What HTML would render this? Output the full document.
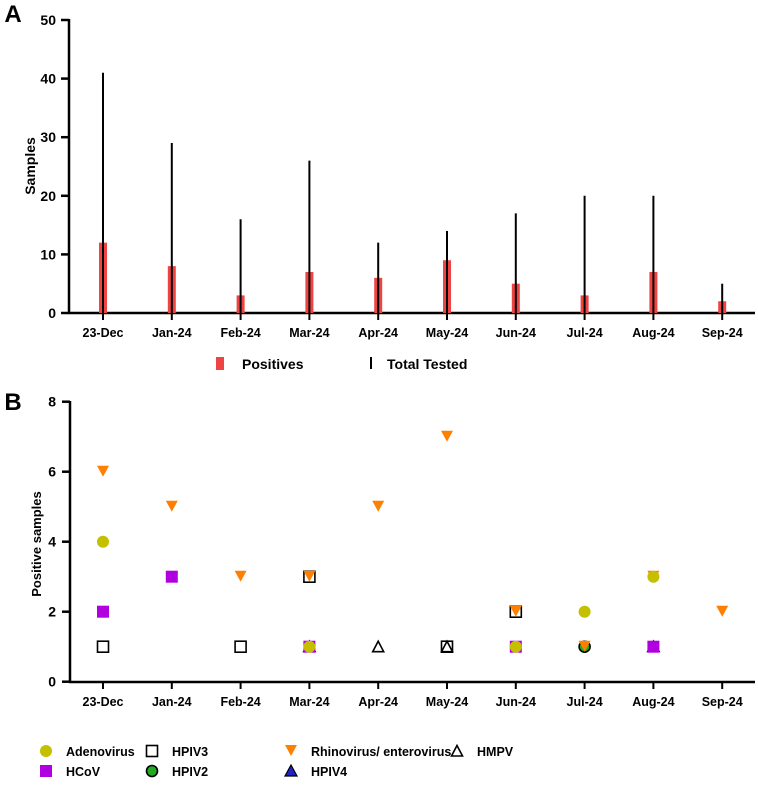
<!DOCTYPE html>
<html><head><meta charset="utf-8"><style>
body{margin:0;background:#fff;font-family:"Liberation Sans",Arial,sans-serif}
svg text{font-family:"Liberation Sans",Arial,sans-serif;font-weight:bold;fill:#000}
</style></head><body>
<svg id="c" width="758" height="783" viewBox="0 0 758 783"></svg>
<script>
const months=["23-Dec","Jan-24","Feb-24","Mar-24","Apr-24","May-24","Jun-24","Jul-24","Aug-24","Sep-24"];
const positives=[12,8,3,7,6,9,5,3,7,2];
const totalTested=[41,29,16,26,12,14,17,20,20,5];
const ticksA=[0,10,20,30,40,50];
const ticksB=[0,2,4,6,8];
const adeno=[4,null,null,1,null,null,1,2,3,null];
const hcov=[2,3,null,1,null,null,1,null,1,null];
const hpiv3=[1,null,1,3,null,1,2,null,null,null];
const hpiv2=[null,null,null,null,null,null,null,1,null,null];
const rhino=[6,5,3,3,5,7,2,1,3,2];
const hpiv4=[null,null,null,1,null,null,null,null,1,null];
const hmpv=[null,null,null,null,1,1,null,null,null,null];

const svg=document.getElementById('c');const NS="http://www.w3.org/2000/svg";
function el(t,a,p){const e=document.createElementNS(NS,t);for(const k in a)e.setAttribute(k,a[k]);(p||svg).appendChild(e);return e;}
function tx(x,y,s,size,anchor,name){const e=el('text',{x:x,y:y,'font-size':size,'text-anchor':anchor||'middle'});e.textContent=s;

return e;}
const xc=i=>103+i*68.8;
// Panel A
const yA=v=>313-v*5.86;
tx(13,22,"A",24,'middle','panel-a-label');
const gA=el('g',{});


el('line',{x1:69,y1:19,x2:69,y2:313,stroke:'#000','stroke-width':2.5},gA);
el('line',{x1:68,y1:313,x2:755,y2:313,stroke:'#000','stroke-width':2.5},gA);
ticksA.forEach(v=>{el('line',{x1:61,y1:yA(v),x2:69,y2:yA(v),stroke:'#000','stroke-width':2.5},gA);tx(56,yA(v)+5,String(v),14,'end','y-tick-a');});
months.forEach((m,i)=>{el('line',{x1:xc(i),y1:313,x2:xc(i),y2:320,stroke:'#000','stroke-width':2},gA);tx(xc(i),337,m,12.5,'middle','x-tick-a');});
{const t=tx(0,0,"Samples",14,'middle','y-axis-title-a');t.setAttribute('transform','translate(35,166) rotate(-90)');}
positives.forEach((v,i)=>{const r=el('rect',{x:xc(i)-4,y:yA(v),width:8,height:313-yA(v),fill:'#ee4444'});

});
totalTested.forEach((v,i)=>{const l=el('line',{x1:xc(i),y1:yA(v),x2:xc(i),y2:313,stroke:'#000','stroke-width':2});

});
el('rect',{x:216,y:357,width:8,height:13,fill:'#ee4444'});
tx(242,369,"Positives",14,'start','legend-positives');
el('rect',{x:370,y:357,width:2,height:12,fill:'#000'});
tx(387,369,"Total Tested",14,'start','legend-total-tested');
// Panel B
const yB=v=>681.7-v*35;
tx(13,410,"B",24,'middle','panel-b-label');
const gB=el('g',{});


el('line',{x1:70,y1:401,x2:70,y2:682,stroke:'#000','stroke-width':2.5},gB);
el('line',{x1:69,y1:682,x2:755,y2:682,stroke:'#000','stroke-width':2.5},gB);
ticksB.forEach(v=>{el('line',{x1:62,y1:yB(v),x2:70,y2:yB(v),stroke:'#000','stroke-width':2.5},gB);tx(56,yB(v)+5,String(v),14,'end','y-tick-b');});
months.forEach((m,i)=>{el('line',{x1:xc(i),y1:682,x2:xc(i),y2:689,stroke:'#000','stroke-width':2},gB);tx(xc(i),706,m,12.5,'middle','x-tick-b');});
{const t=tx(0,0,"Positive samples",13,'middle','y-axis-title-b');t.setAttribute('transform','translate(41,544) rotate(-90)');}
function mark(kind,x,y){let e;
if(kind=='adeno')e=el('circle',{cx:x,cy:y,r:6,fill:'#c4c000'});
else if(kind=='hcov')e=el('rect',{x:x-6,y:y-6,width:12,height:12,fill:'#b000e0'});
else if(kind=='hpiv3')e=el('rect',{x:x-5.5,y:y-5.5,width:11,height:11,fill:'#fff',stroke:'#000','stroke-width':1.6});
else if(kind=='hpiv2')e=el('circle',{cx:x,cy:y,r:5.5,fill:'#22aa22',stroke:'#000','stroke-width':1.6});
else if(kind=='rhino')e=el('polygon',{points:`${x-6},${y-6} ${x+6},${y-6} ${x},${y+5}`,fill:'#ff8000'});
else if(kind=='hpiv4')e=el('polygon',{points:`${x-6},${y+5} ${x+6},${y+5} ${x},${y-6}`,fill:'#2222cc',stroke:'#000','stroke-width':1.2});
else if(kind=='hmpv')e=el('polygon',{points:`${x-5.5},${y+5} ${x+5.5},${y+5} ${x},${y-5.5}`,fill:'#fff',stroke:'#000','stroke-width':1.6});
return e;}
const series=[['hpiv4',hpiv4],['hpiv2',hpiv2],['hcov',hcov],['hpiv3',hpiv3],['hmpv',hmpv],['adeno',adeno],['rhino',rhino]];
series.forEach(([k,arr])=>arr.forEach((v,i)=>{if(v==null)return;
if(k=='adeno'&&(i==3||i==6||i==8))return;
const e=mark(k,xc(i),yB(v));

}));
adeno.forEach((v,i)=>{if(v==null||!(i==3||i==6||i==8))return;const e=mark('adeno',xc(i),yB(v));

});
// Legend B
const leg=[['adeno','Adenovirus',46,751],['hpiv3','HPIV3',152,751],['rhino','Rhinovirus/ enterovirus',291,751],['hmpv','HMPV',457,751],['hcov','HCoV',46,771],['hpiv2','HPIV2',152,771],['hpiv4','HPIV4',291,771]];
leg.forEach(([k,l,x,y])=>{const m=mark(k,x,y);


tx(x+20,y+5,l,12.5,'start','legend-'+k);});
</script></body></html>
